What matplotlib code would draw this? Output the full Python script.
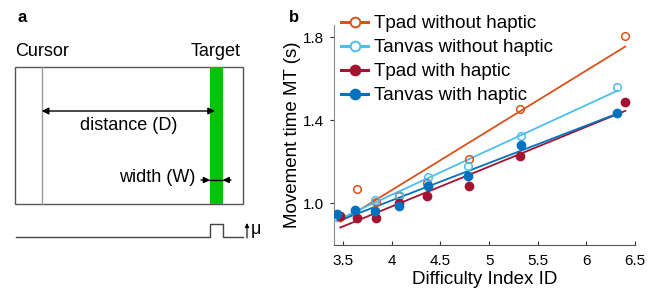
import numpy as np
import matplotlib
matplotlib.use('Agg')
import matplotlib.pyplot as plt
from matplotlib.patches import Rectangle

plt.rcParams['font.family'] = ['Liberation Sans', 'DejaVu Sans']

# difficulty index per device
tpad_id = [3.47, 3.64, 3.84, 4.07, 4.36, 4.79, 5.32, 6.40]
tanvas_id = [3.44, 3.62, 3.83, 4.07, 4.375, 4.78, 5.33, 6.32]

# movement time (s)
tpad_no = [0.940, 1.071, 1.008, 1.038, 1.100, 1.216, 1.457, 1.808]
tanvas_no = [0.935, 0.965, 1.016, 1.040, 1.128, 1.183, 1.324, 1.561]
tpad_hap = [0.942, 0.931, 0.928, 1.000, 1.035, 1.083, 1.227, 1.487]
tanvas_hap = [0.947, 0.968, 0.963, 0.987, 1.083, 1.131, 1.284, 1.436]

series = [
    ('Tpad without haptic', tpad_id, tpad_no, '#D95319', False),
    ('Tanvas without haptic', tanvas_id, tanvas_no, '#4DBEEE', False),
    ('Tpad with haptic', tpad_id, tpad_hap, '#A2142F', True),
    ('Tanvas with haptic', tanvas_id, tanvas_hap, '#0072BD', True),
]

fig = plt.figure(figsize=(6.62, 2.89), dpi=100)

# ---- panel a : schematic, drawn in pixel coordinates
axa = fig.add_axes([0, 0, 280 / 662, 1])
axa.set_xlim(0, 280)
axa.set_ylim(289, 0)
axa.axis('off')

axa.add_patch(Rectangle((15, 67), 228, 137, fill=False, edgecolor='#555555', lw=1.0))
axa.plot([41.7, 41.7], [67, 204], color='#999999', lw=1.0)
axa.add_patch(Rectangle((210, 67), 12.7, 137, color='#00C400', lw=0))
axa.text(15, 52, 'Cursor', fontsize=13, ha='left', va='center')
axa.text(241, 52, 'Target', fontsize=13, ha='right', va='center')

axa.annotate('', xy=(41.7, 111), xytext=(215, 111),
             arrowprops=dict(arrowstyle='<|-|>', color='k', lw=1.0,
                             mutation_scale=10, shrinkA=0, shrinkB=0))
axa.text(129, 125, 'distance (D)', fontsize=13, ha='center', va='center')

axa.text(195, 177, 'width (W)', fontsize=13, ha='right', va='center')
axa.plot([203, 229], [180, 180], color='k', lw=1.0)
axa.annotate('', xy=(210, 180), xytext=(201, 180),
             arrowprops=dict(arrowstyle='-|>', color='k', lw=1.0,
                             mutation_scale=9, shrinkA=0, shrinkB=0))
axa.annotate('', xy=(222.7, 180), xytext=(231, 180),
             arrowprops=dict(arrowstyle='-|>', color='k', lw=1.0,
                             mutation_scale=9, shrinkA=0, shrinkB=0))

axa.plot([16, 210, 210, 223, 223, 243], [237, 237, 224, 224, 237, 237],
         color='#444444', lw=1.0)
axa.annotate('', xy=(247, 223), xytext=(247, 238),
             arrowprops=dict(arrowstyle='-|>', color='k', lw=0.8,
                             mutation_scale=6, shrinkA=0, shrinkB=0))
axa.text(251, 230, 'μ', fontsize=13, ha='left', va='center')

fig.text(17 / 662, 1 - 17 / 289, 'a', fontsize=12, fontweight='bold',
         ha='left', va='center')
fig.text(289 / 662, 1 - 17 / 289, 'b', fontsize=12, fontweight='bold',
         ha='left', va='center')

# ---- panel b : Fitts' law
ax = fig.add_axes([333.5 / 662, 44 / 289, 301.5 / 662, 220 / 289])

handles = []
for label, x, y, c, filled in series:
    x = np.array(x)
    y = np.array(y)
    k, b = np.polyfit(x, y, 1)
    xs = np.array([x.min(), x.max()])
    ax.plot(xs, k * xs + b, color=c, lw=1.3, zorder=2)
    if filled:
        ax.plot(x, y, 'o', color=c, ms=6, zorder=3)
    else:
        ax.plot(x, y, 'o', mfc='none', mec=c, mew=1.1, ms=5.5, zorder=3)
    h, = ax.plot([], [], '-o', color=c, lw=2.2, ms=7,
                 mfc=c if filled else 'white', mec=c, mew=1.4)
    handles.append(h)

ax.set_xlim(3.4, 6.5)
ax.set_ylim(0.8, 1.86)
ax.set_xticks([3.5, 4, 4.5, 5, 5.5, 6, 6.5])
ax.set_xticklabels(['3.5', '4', '4.5', '5', '5.5', '6', '6.5'])
ax.set_yticks([1.0, 1.4, 1.8])
ax.set_yticklabels(['1.0', '1.4', '1.8'])
ax.tick_params(labelsize=11, length=3, width=0.8, colors='#333333',
               labelcolor='k')
ax.tick_params(axis='x', direction='in', pad=6.5)
ax.tick_params(axis='y', direction='out', pad=4)
for s in ['top', 'right']:
    ax.spines[s].set_visible(False)
ax.spines['left'].set_color('#888888')
ax.spines['bottom'].set_color('#555555')
ax.set_xlabel('Difficulty Index ID', fontsize=13.5, labelpad=2)
ax.set_ylabel('Movement time MT (s)', fontsize=13.5, labelpad=1)

fig.legend(handles, [s[0] for s in series], loc='upper left',
           bbox_to_anchor=(341 / 662, 1 - 15 / 289), frameon=False,
           fontsize=13.5, handlelength=1.45, handletextpad=0.3,
           labelspacing=0.37, borderpad=0, borderaxespad=0)

fig.savefig('out.png', dpi=100)
